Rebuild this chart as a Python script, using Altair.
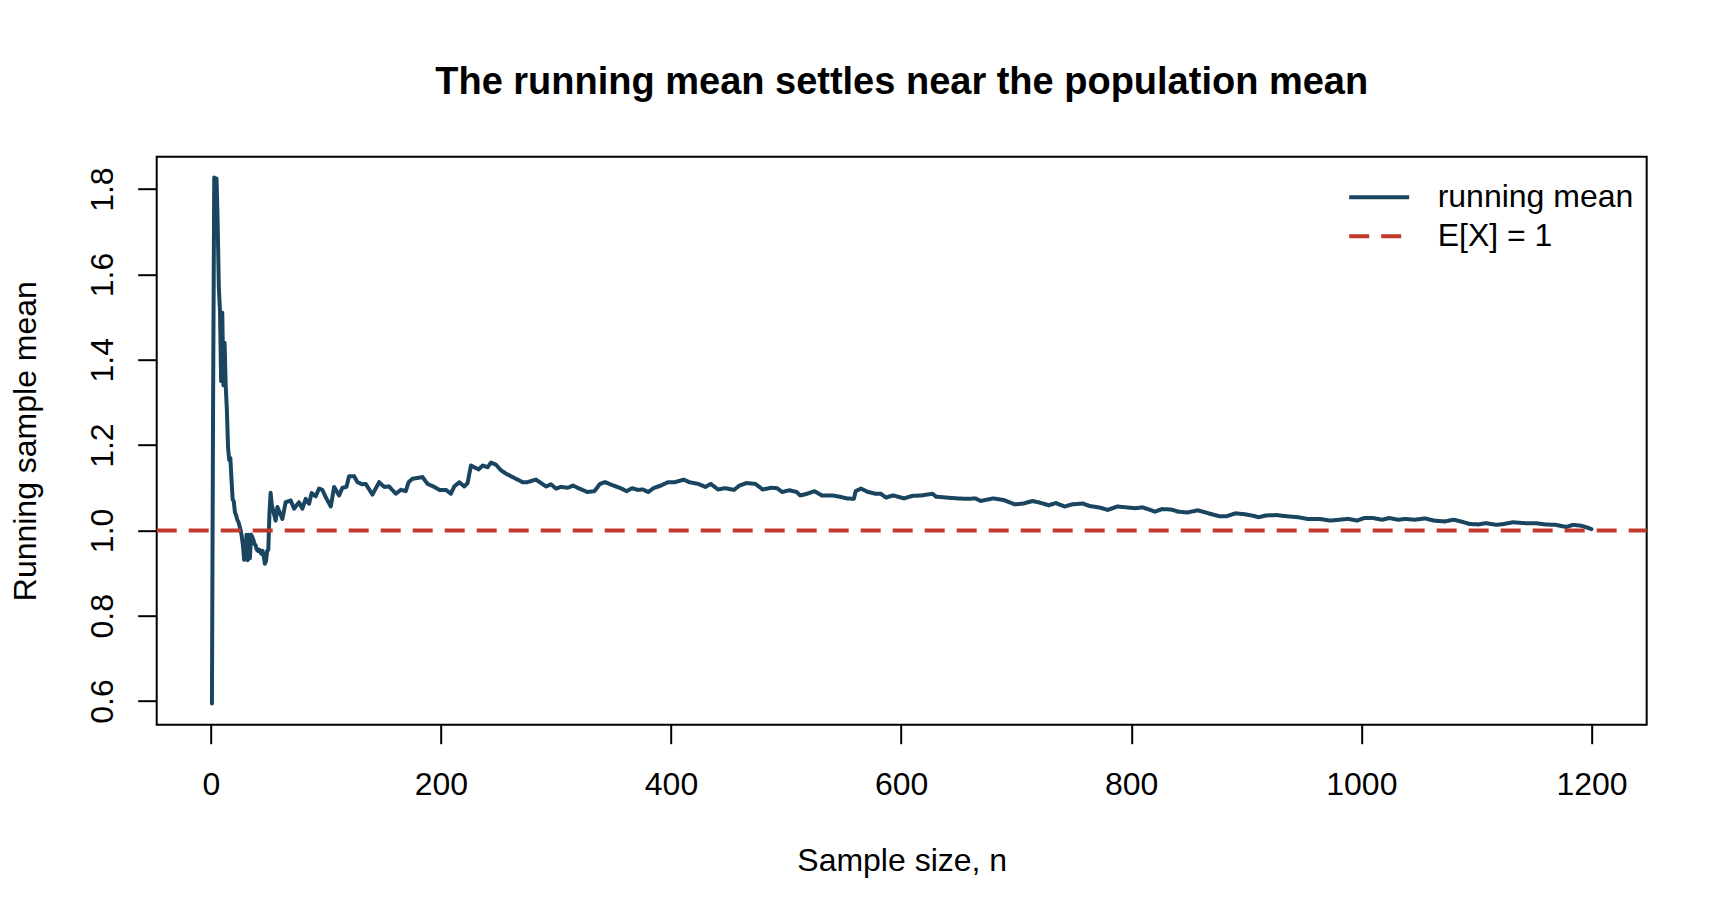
import altair as alt
import pandas as pd

TITLE = "The running mean settles near the population mean"
X_TITLE = "Sample size, n"
Y_TITLE = "Running sample mean"
SERIES = ["running mean", "E[X] = 1"]
POP_MEAN = [1.0]
X_TICKS = [0, 200, 400, 600, 800, 1000, 1200]
Y_TICKS = [0.6, 0.8, 1.0, 1.2, 1.4, 1.6, 1.8]
X_DOMAIN = [-47, 1248]
Y_DOMAIN = [0.5446, 1.876]

# running sample mean (n, value)
n_vals = [
    1, 2, 3, 4, 5, 6, 7, 8, 9, 10, 11, 12, 13, 14, 15, 16, 17, 18, 19, 20,
    21, 22, 23, 24, 25, 26, 27, 28, 29, 30, 31, 32, 33, 34, 35, 36, 37, 38, 39, 40,
    41, 42, 43, 44, 45, 46, 47, 48, 49, 50, 51, 52, 53,
    56.4, 57.9, 62.2, 65.1, 69.5, 72.4, 76.7, 79.6, 82.5, 85.4, 87.7, 91.2, 94.1, 97,
    99.9, 104.3, 107.2, 111.5, 114.4, 117.9, 120.2, 124.6, 127.5, 131.8, 134.7, 140.5,
    146.3, 150.7, 155, 160.8, 165.2, 169.5, 171.9, 175.3, 184.1, 188.4, 194.2, 198.6,
    204.4, 208.7, 211.6, 216, 220.3, 223.2, 226.1, 229, 232.8, 236.3, 240.6, 243.5,
    247.9, 252.2, 256.6, 260.9, 266.7, 271.1, 275.4, 279.8, 282.7, 287, 291.4, 295.7,
    300.1, 304.4, 310.2, 314.9, 319.5, 327.3, 333.5, 338.2, 342.9, 349.1, 355.3, 361.5,
    366.2, 370.8, 375.5, 380.2, 384.8, 391, 397.3, 403.5, 411.2, 415.9, 423.7, 429.9,
    434.6, 440.8, 447, 454.8, 459.4, 465.6, 473.4, 479.6, 487.4, 492.1, 496.7, 502.9,
    509.2, 512.3, 518.5, 524.7, 530.9, 540.2, 546.5, 552.7, 558.9, 560.5, 565.1, 571.3,
    577.5, 582.2, 586.9, 593.1, 602.4, 610.2, 618, 627.3, 630.4, 639.7, 649, 658.4,
    664.6, 669.2, 680.1, 689.5, 698.8, 706.5, 714.3, 720.5, 728.3, 734.5, 742.3, 748.5,
    757.8, 764, 771.8, 779.6, 788, 795.8, 803.5, 809.7, 814.4, 820.6, 826.8, 834.6,
    840.8, 848.6, 857.9, 867.3, 876.6, 882.8, 890.6, 898.3, 904.6, 910.8, 917, 926.3,
    935.6, 945, 952.7, 963.6, 973, 980.7, 988.5, 996.3, 1002.5, 1010.2, 1018, 1024.2,
    1032, 1038.2, 1046, 1055.3, 1063.1, 1072.4, 1080.2, 1086.4, 1094.2, 1101.9, 1108.2,
    1117.5, 1123.7, 1131.5, 1142.4, 1151.7, 1159.5, 1168.8, 1178.1, 1184.3, 1191, 1196,
    1200,
]
mean_vals = [
    0.594, 1.294, 1.827, 1.76, 1.825, 1.72, 1.57, 1.515, 1.35, 1.51, 1.34, 1.44, 1.337,
    1.282, 1.195, 1.165, 1.17, 1.12, 1.073, 1.068, 1.042, 1.036, 1.025, 1.02, 1.01, 1.0,
    0.985, 0.963, 0.931, 0.935, 0.99, 0.93, 0.99, 0.935, 0.99, 0.985, 0.978, 0.968,
    0.965, 0.955, 0.952, 0.955, 0.95, 0.945, 0.952, 0.94, 0.922, 0.928, 0.952, 0.955,
    1.04, 1.088, 1.06,
    1.023, 1.055, 1.027, 1.066, 1.070, 1.051, 1.066, 1.051, 1.074, 1.0625, 1.0875,
    1.080, 1.098, 1.095, 1.078, 1.056, 1.102, 1.082, 1.100, 1.102, 1.127, 1.127, 1.113,
    1.108, 1.109, 1.084, 1.113, 1.102, 1.103, 1.086, 1.095, 1.092, 1.113, 1.121, 1.125,
    1.109, 1.102, 1.095, 1.095, 1.086, 1.103, 1.113, 1.103, 1.111, 1.152, 1.148, 1.143,
    1.152, 1.148, 1.159, 1.154, 1.141, 1.133, 1.127, 1.119, 1.113, 1.113, 1.117, 1.119,
    1.111, 1.103, 1.108, 1.098, 1.102, 1.100, 1.105, 1.099, 1.090, 1.092, 1.109, 1.113,
    1.106, 1.100, 1.092, 1.099, 1.095, 1.096, 1.090, 1.099, 1.105, 1.113, 1.113, 1.119,
    1.113, 1.109, 1.102, 1.109, 1.096, 1.099, 1.095, 1.105, 1.111, 1.109, 1.096, 1.100,
    1.099, 1.090, 1.094, 1.090, 1.082, 1.086, 1.092, 1.082, 1.082, 1.079, 1.075, 1.074,
    1.092, 1.098, 1.090, 1.086, 1.086, 1.077, 1.082, 1.075, 1.081, 1.082, 1.086, 1.079,
    1.077, 1.075, 1.074, 1.075, 1.069, 1.075, 1.071, 1.061, 1.063, 1.069, 1.065, 1.059,
    1.064, 1.056, 1.061, 1.063, 1.057, 1.054, 1.048, 1.056, 1.054, 1.052, 1.054, 1.050,
    1.044, 1.050, 1.049, 1.044, 1.042, 1.047, 1.040, 1.033, 1.033, 1.040, 1.038, 1.035,
    1.031, 1.035, 1.036, 1.033, 1.031, 1.027, 1.027, 1.023, 1.025, 1.027, 1.023, 1.029,
    1.029, 1.025, 1.029, 1.025, 1.027, 1.025, 1.028, 1.023, 1.021, 1.025, 1.021, 1.015,
    1.014, 1.017, 1.013, 1.015, 1.019, 1.017, 1.017, 1.014, 1.013, 1.008, 1.013, 1.011,
    1.007, 1.003,
]

FONT = "Liberation Sans, Arial, Helvetica, sans-serif"
LINE_BLUE = "#1A4560"
REF_RED = "#C0392B"
W, H = 1490, 568

df = pd.DataFrame({"n": n_vals, "mean": mean_vals, "series": SERIES[0]})
ref = pd.DataFrame({"y": POP_MEAN, "series": SERIES[1]})

legend = alt.Legend(
    orient="none", legendX=1206.5, legendY=24.5, title=None,
    symbolType="M-3,0L3,0", symbolSize=400, symbolStrokeWidth=4,
    labelFont=FONT, labelFontSize=32, labelColor="black", labelOffset=42.5,
    labelLimit=800, rowPadding=7, padding=0,
)
color = alt.Color("series:N", scale=alt.Scale(domain=SERIES, range=[LINE_BLUE, REF_RED]), legend=legend)
dash = alt.StrokeDash("series:N", scale=alt.Scale(domain=SERIES, range=[[1, 0], [20, 12]]), legend=legend)

x_enc = alt.X(
    "n:Q",
    scale=alt.Scale(domain=X_DOMAIN, nice=False, zero=False),
    axis=alt.Axis(
        values=X_TICKS, format="d", title=X_TITLE, labelFlush=False,
        labelBaseline="alphabetic", labelPadding=51,
        titleBaseline="alphabetic", titleAlign="center", titleX=W / 2, titleY=146,
    ),
)
y_enc = alt.Y(
    "mean:Q",
    scale=alt.Scale(domain=Y_DOMAIN, nice=False, zero=False),
    axis=alt.Axis(
        values=Y_TICKS, format=".1f", title=Y_TITLE, labelFlush=False, labelOverlap=False,
        labelAngle=270, labelAlign="center", labelBaseline="alphabetic", labelPadding=25.4,
        titleAngle=270, titleAlign="center", titleBaseline="alphabetic",
        titleX=-121.7, titleY=H / 2,
    ),
)

line = alt.Chart(df).mark_line(
    strokeWidth=4, strokeJoin="round", strokeCap="round", clip=True
).encode(x=x_enc, y=y_enc, color=color, strokeDash=dash)

rule = alt.Chart(ref).mark_rule(strokeWidth=4).encode(
    y=alt.Y("y:Q"),
    x=alt.datum(X_DOMAIN[0]),
    x2=alt.datum(X_DOMAIN[1]),
    color=color,
    strokeDash=dash,
)

chart = alt.layer(line, rule).properties(
    width=W,
    height=H,
    title=alt.TitleParams(
        text=TITLE, font=FONT, fontSize=38, fontWeight="bold", color="black",
        anchor="middle", frame="group", baseline="alphabetic", offset=25,
    ),
    autosize=alt.AutoSizeParams(type="none"),
    padding={"left": 148.7, "top": 148.7, "right": 60, "bottom": 170},
).configure_view(
    stroke="black", strokeWidth=2
).configure_axis(
    grid=False, domain=False, ticks=True, tickSize=19, tickWidth=2, tickColor="black",
    labelFont=FONT, labelFontSize=32, labelColor="black",
    titleFont=FONT, titleFontSize=32, titleFontWeight="normal", titleColor="black",
)

chart.save("out.html", embed_options={"renderer": "svg", "actions": False})
